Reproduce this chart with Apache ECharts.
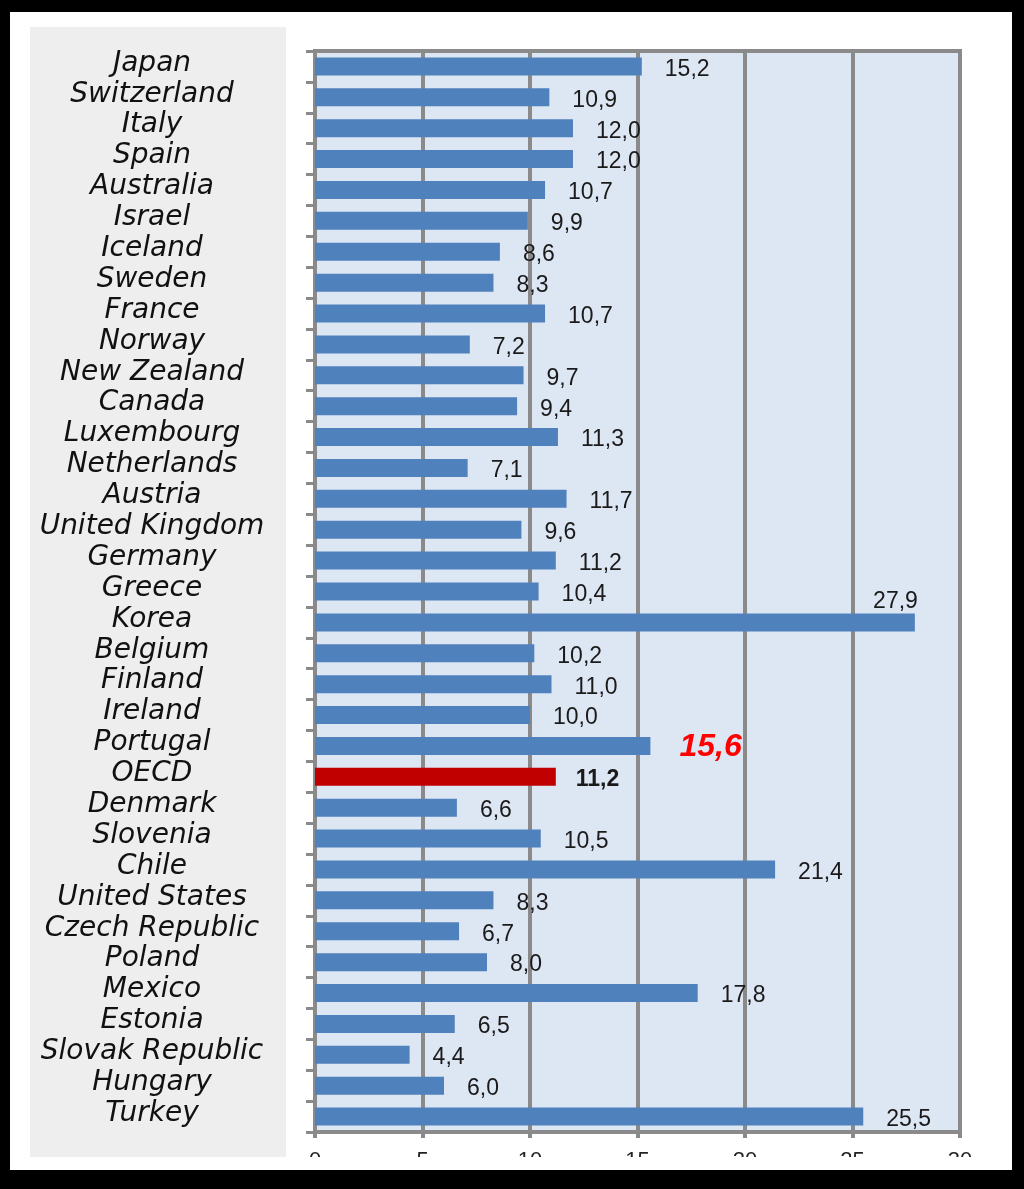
<!DOCTYPE html>
<html>
<head>
<meta charset="utf-8">
<script src="https://cdn.jsdelivr.net/npm/echarts@6/dist/echarts.min.js"></script>
<style>
  html, body { margin: 0; padding: 0; background: #000; }
  #wrap { position: relative; width: 1024px; height: 1189px; background: #000; overflow: hidden; }
  #white { position: absolute; left: 10px; top: 12px; width: 1002px; height: 1158px; background: #fff; }
  #gray { position: absolute; left: 30px; top: 27px; width: 256px; height: 1130px; background: #eeeeee; }
  #chart { position: absolute; left: 0; top: 0; width: 1024px; height: 1189px; }
</style>
</head>
<body>
<div id="wrap">
  <div id="white"></div>
  <div id="gray"></div>
  <div id="chart"></div>
</div>
<script>
const categories = ['Japan','Switzerland','Italy','Spain','Australia','Israel','Iceland','Sweden','France','Norway','New Zealand','Canada','Luxembourg','Netherlands','Austria','United Kingdom','Germany','Greece','Korea','Belgium','Finland','Ireland','Portugal','OECD','Denmark','Slovenia','Chile','United States','Czech Republic','Poland','Mexico','Estonia','Slovak Republic','Hungary','Turkey'];
const values = [15.2,10.9,12.0,12.0,10.7,9.9,8.6,8.3,10.7,7.2,9.7,9.4,11.3,7.1,11.7,9.6,11.2,10.4,27.9,10.2,11.0,10.0,15.6,11.2,6.6,10.5,21.4,8.3,6.7,8.0,17.8,6.5,4.4,6.0,25.5];
const xMin = 0;
const xMax = 30;
const xStep = 5;

const fmt = v => v.toFixed(1).replace('.', ',');

const data = values.map((v, i) => {
  const name = categories[i];
  const item = { value: v };
  if (name === 'OECD') {
    item.itemStyle = { color: '#c00000' };
    item.label = { fontWeight: 'bold', fontSize: 23, distance: 20 };
  } else if (name === 'Portugal') {
    item.label = { color: '#ff0000', fontWeight: 'bold', fontStyle: 'italic', fontSize: 32, distance: 29, offset: [0, 1] };
  } else if (name === 'Korea') {
    item.label = { position: ['100%', 0], align: 'right', verticalAlign: 'bottom', offset: [3, 0] };
  }
  return item;
});

const chart = echarts.init(document.getElementById('chart'), null, { renderer: 'canvas' });
const gray = '#8a8a8a';
chart.setOption({
  backgroundColor: 'transparent',
  animation: false,
  grid: {
    left: 315, top: 51, width: 645, height: 1081,
    show: true, backgroundColor: '#dde6f3', borderColor: gray, borderWidth: 4,
    containLabel: false
  },
  xAxis: {
    type: 'value', min: xMin, max: xMax, interval: xStep,
    axisLine: { show: true, lineStyle: { color: gray, width: 4 } },
    axisTick: { show: true, length: 6, lineStyle: { color: gray, width: 4 } },
    splitLine: { show: true, lineStyle: { color: gray, width: 4 } },
    axisLabel: { margin: 18, fontSize: 22, fontFamily: 'Liberation Sans', color: '#222' }
  },
  yAxis: {
    type: 'category', data: categories, inverse: true,
    axisLine: { show: true, lineStyle: { color: gray, width: 4 } },
    axisTick: { show: true, length: 9, lineStyle: { color: gray, width: 3 } },
    axisLabel: {
      interval: 0, align: 'center', margin: 163, fontSize: 28, fontStyle: 'italic',
      fontFamily: 'DejaVu Sans', color: '#111', verticalAlign: 'bottom', lineHeight: 6
    }
  },
  series: [{
    type: 'bar',
    data: data,
    barWidth: 18,
    itemStyle: { color: '#4f81bd' },
    label: {
      show: true, position: 'right', distance: 23, offset: [0, 3],
      fontFamily: 'Liberation Sans', fontSize: 23, color: '#1a1a1a',
      formatter: p => fmt(p.value)
    }
  }],
  graphic: [{
    type: 'rect', z: 100,
    shape: { x: 288, y: 1157, width: 724, height: 13 },
    style: { fill: '#fff' }
  }]
});
</script>
</body>
</html>
